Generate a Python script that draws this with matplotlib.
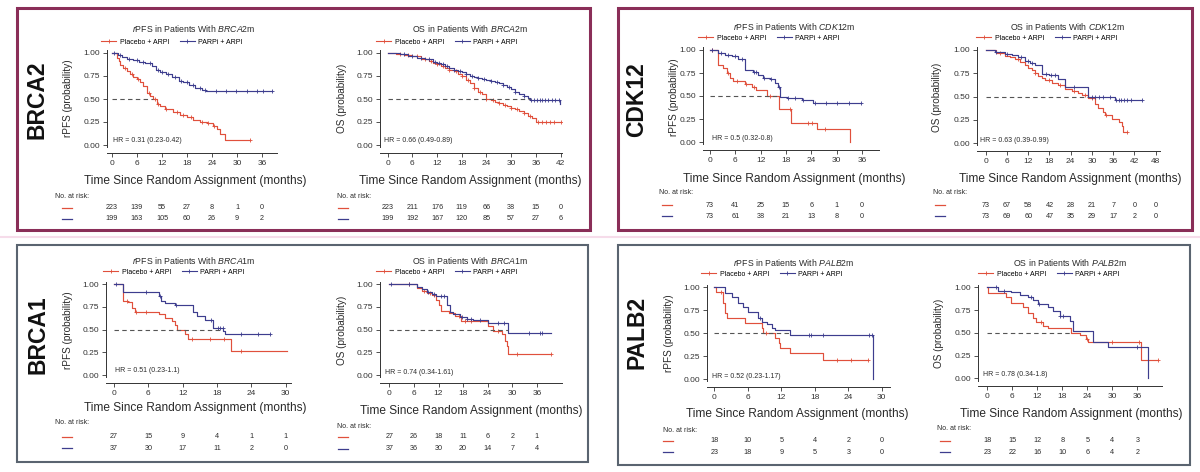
import matplotlib
matplotlib.use('Agg')
import matplotlib.pyplot as plt
from matplotlib import font_manager
from matplotlib.lines import Line2D
from matplotlib.patches import Rectangle
from matplotlib.transforms import blended_transform_factory
import numpy as np

W, H = 1200, 472
RED = '#e0503c'
BLUE = '#3d3d8e'
TXT = '#2a2a2a'

# ---------------- data ----------------
arms = ['Placebo + ARPI', 'PARPi + ARPI']
y_ticks = [0.0, 0.25, 0.5, 0.75, 1.0]
y_tick_labels = ['0.00', '0.25', '0.50', '0.75', '1.00']

# BRCA2 rPFS
brca2_rpfs_pbo_t = [0, 1.2, 1.6, 2.0, 2.7, 3.5, 4.3, 5.1, 5.9, 6.7, 7.5, 8.3, 9.1, 9.9, 10.7, 11.5,
                    12.7, 14.7, 16.3, 17.9, 19.5, 21.0, 22.7, 24.3, 25.1, 26.0, 27.2, 33.1]
brca2_rpfs_pbo_s = [1.0, 0.95, 0.91, 0.87, 0.84, 0.80, 0.77, 0.74, 0.72, 0.68, 0.64, 0.57, 0.53, 0.50,
                    0.45, 0.42, 0.39, 0.36, 0.33, 0.30, 0.27, 0.25, 0.24, 0.21, 0.17, 0.12, 0.05, 0.05]
brca2_rpfs_pbo_cens = [3, 4.8, 6.2, 8.8, 10.2, 11.0, 13.0, 15.5, 17.0, 19.0, 21.5, 23.0, 24.5, 33.1]
brca2_rpfs_parp_t = [0, 1.5, 2.5, 3.5, 5.0, 6.5, 8.0, 9.5, 10.5, 11.5, 13.0, 14.5, 16.0, 17.0,
                     18.5, 20.0, 21.5, 22.5, 38.3]
brca2_rpfs_parp_s = [1.0, 0.98, 0.96, 0.93, 0.92, 0.905, 0.89, 0.86, 0.82, 0.79, 0.77, 0.74, 0.70,
                     0.68, 0.65, 0.62, 0.60, 0.59, 0.59]
brca2_rpfs_parp_cens = [0.5, 2, 4, 6, 7.5, 9, 11, 12, 13.5, 15, 16.5, 18, 19.5, 21, 22.3, 25,
                        27.4, 29.8, 32.3, 34.7, 36.3, 38.3]
brca2_rpfs_xticks = [0, 6, 12, 18, 24, 30, 36]
brca2_rpfs_risk_pbo = [223, 139, 55, 27, 8, 1, 0]
brca2_rpfs_risk_parp = [199, 163, 105, 60, 26, 9, 2]
brca2_rpfs_median_line = 9.9
brca2_rpfs_hr = 'HR = 0.31 (0.23-0.42)'

# BRCA2 OS
brca2_os_pbo_t = [0, 2, 4, 6, 8, 10, 11, 12, 13, 14, 15, 16, 17, 18, 19, 20, 21, 22, 23, 24, 25,
                  26, 27, 28, 29, 30, 31, 32, 33, 34, 35, 36, 42]
brca2_os_pbo_s = [1.0, 0.99, 0.98, 0.965, 0.94, 0.91, 0.895, 0.88, 0.86, 0.84, 0.82, 0.80, 0.77,
                  0.745, 0.71, 0.67, 0.62, 0.58, 0.55, 0.50, 0.49, 0.47, 0.46, 0.44, 0.42, 0.40,
                  0.39, 0.37, 0.345, 0.32, 0.29, 0.255, 0.25]
brca2_os_pbo_cens = [3, 5, 7, 9, 10.5, 12, 13.5, 15, 16.5, 18, 19.5, 21, 22.5, 24, 25.5, 27, 28.5,
                     30, 31.5, 33, 34.5, 36.5, 37.5, 38.5, 39.5, 40.5, 42]
brca2_os_parp_t = [0, 3, 5, 7, 9, 11, 12, 13, 14, 15, 16, 17, 18, 19, 20, 21, 22, 23, 24, 25, 26,
                   27, 28, 29, 30, 31, 32, 33, 34, 34.6, 41.9]
brca2_os_parp_s = [1.0, 0.99, 0.97, 0.95, 0.93, 0.90, 0.89, 0.88, 0.86, 0.84, 0.82, 0.80, 0.79,
                   0.77, 0.75, 0.74, 0.73, 0.72, 0.71, 0.70, 0.68, 0.67, 0.65, 0.63, 0.61, 0.58,
                   0.55, 0.53, 0.51, 0.49, 0.45]
brca2_os_parp_cens = [4, 6, 8, 10, 11.5, 12.5, 13.5, 14.5, 16, 17.5, 19, 20.5, 22, 23.5, 25, 26.5,
                      28, 29.5, 31, 33, 34.8, 35.5, 36.2, 36.9, 37.6, 38.3, 39, 39.8, 40.6, 41.5]
brca2_os_xticks = [0, 6, 12, 18, 24, 30, 36, 42]
brca2_os_risk_pbo = [223, 211, 176, 119, 66, 38, 15, 0]
brca2_os_risk_parp = [199, 192, 167, 120, 85, 57, 27, 6]
brca2_os_median_line = 34.6
brca2_os_hr = 'HR = 0.66 (0.49-0.89)'

# CDK12 rPFS
cdk12_rpfs_pbo_t = [0, 1.8, 3.2, 4.0, 4.7, 5.5, 8.3, 9.9, 11.0, 13.4, 16.4, 19.3, 25.4, 33.2]
cdk12_rpfs_pbo_s = [1.0, 0.84, 0.80, 0.75, 0.70, 0.66, 0.63, 0.60, 0.56, 0.50, 0.36, 0.21, 0.14, 0.0]
cdk12_rpfs_pbo_cens = [0.5, 4.3, 6.5, 8.6, 10.5, 14.2, 19.0, 23.2, 24.3, 27.3]
cdk12_rpfs_parp_t = [0, 1.9, 3.5, 5.1, 6.7, 8.3, 10.3, 11.4, 12.6, 14.2, 15.4, 16.2, 16.6, 18.2,
                     21.7, 24.5, 35.9]
cdk12_rpfs_parp_s = [1.0, 0.97, 0.95, 0.93, 0.90, 0.78, 0.76, 0.73, 0.70, 0.68, 0.64, 0.60, 0.49,
                     0.48, 0.46, 0.42, 0.42]
cdk12_rpfs_parp_cens = [0.5, 2.5, 4.2, 6, 7.5, 10.5, 11, 12.8, 14.5, 16.4, 18.5, 20.2, 22, 24.8,
                        27.5, 30.2, 33, 35.9]
cdk12_rpfs_xticks = [0, 6, 12, 18, 24, 30, 36]
cdk12_rpfs_risk_pbo = [73, 41, 25, 15, 6, 1, 0]
cdk12_rpfs_risk_parp = [73, 61, 38, 21, 13, 8, 0]
cdk12_rpfs_median_line = 16.6
cdk12_rpfs_hr = 'HR = 0.5 (0.32-0.8)'

# CDK12 OS
cdk12_os_pbo_t = [0, 3.0, 5.5, 7.0, 8.3, 9.7, 11.1, 12.0, 13.0, 14.0, 14.9, 16.0, 16.8, 18.6, 20.5,
                  22.4, 24.3, 26.0, 27.1, 29.0, 30.9, 31.8, 33.0, 33.7, 35.6, 37.5, 38.4, 38.9, 39.8]
cdk12_os_pbo_s = [1.0, 0.97, 0.94, 0.92, 0.90, 0.87, 0.84, 0.81, 0.78, 0.75, 0.72, 0.70, 0.68, 0.65,
                  0.62, 0.58, 0.56, 0.54, 0.52, 0.48, 0.42, 0.38, 0.33, 0.30, 0.26, 0.23, 0.18, 0.12,
                  0.12]
cdk12_os_pbo_cens = [4, 9, 14, 18, 21, 25, 28, 30, 34, 39.8]
cdk12_os_parp_t = [0, 2.6, 5.5, 7.5, 9.2, 11.1, 12.5, 13.9, 15.8, 18.0, 20.5, 22.4, 29.0, 34.7,
                   36.5, 44.0]
cdk12_os_parp_s = [1.0, 0.98, 0.96, 0.95, 0.93, 0.88, 0.86, 0.84, 0.745, 0.73, 0.69, 0.60, 0.50,
                   0.49, 0.46, 0.46]
cdk12_os_parp_cens = [3, 6, 10, 12, 13, 17, 18.5, 19.5, 25, 30, 31, 32, 33, 35, 36.8, 37.5, 38.3,
                      39, 40, 41, 44]
cdk12_os_xticks = [0, 6, 12, 18, 24, 30, 36, 42, 48]
cdk12_os_risk_pbo = [73, 67, 58, 42, 28, 21, 7, 0, 0]
cdk12_os_risk_parp = [73, 69, 60, 47, 35, 29, 17, 2, 0]
cdk12_os_median_line = 29.0
cdk12_os_hr = 'HR = 0.63 (0.39-0.99)'

# BRCA1 rPFS
brca1_rpfs_pbo_t = [0, 1.6, 2.5, 3.1, 3.7, 7.8, 8.9, 10.1, 10.7, 11.0, 12.4, 13.0, 20.5, 30.2]
brca1_rpfs_pbo_s = [1.0, 0.82, 0.80, 0.74, 0.70, 0.67, 0.63, 0.59, 0.55, 0.50, 0.45, 0.40, 0.26, 0.26]
brca1_rpfs_pbo_cens = [2.2, 3.8, 5.6, 13.6, 16.8, 19.2, 22.3]
brca1_rpfs_parp_t = [0, 1.6, 7.8, 8.3, 9.0, 10.7, 13.9, 14.5, 15.9, 17.4, 19.1, 19.5, 27.3]
brca1_rpfs_parp_s = [1.0, 0.91, 0.87, 0.82, 0.79, 0.77, 0.69, 0.65, 0.61, 0.52, 0.48, 0.45, 0.45]
brca1_rpfs_parp_cens = [0.3, 5.6, 8.0, 10.8, 16.9, 18.2, 18.6, 19.0, 22.2, 25.2, 27.3]
brca1_rpfs_xticks = [0, 6, 12, 18, 24, 30]
brca1_rpfs_risk_pbo = [27, 15, 9, 4, 1, 1]
brca1_rpfs_risk_parp = [37, 30, 17, 11, 2, 0]
brca1_rpfs_median_line = 18.8
brca1_rpfs_hr = 'HR = 0.51 (0.23-1.1)'

# BRCA1 OS
brca1_os_pbo_t = [0, 6.7, 8.0, 9.1, 10.5, 11.5, 12.0, 12.5, 14.5, 16.0, 17.5, 24.1, 25.4, 27.4,
                  28.2, 28.6, 29.0, 39.5]
brca1_os_pbo_s = [1.0, 0.96, 0.93, 0.90, 0.88, 0.83, 0.77, 0.71, 0.68, 0.65, 0.60, 0.54, 0.48, 0.45,
                  0.375, 0.32, 0.23, 0.23]
brca1_os_pbo_cens = [4.8, 8.5, 10.0, 11.0, 17.0, 18.5, 20.0, 26.5, 31.2, 39.5]
brca1_os_parp_t = [0, 6.7, 7.9, 9.1, 10.3, 11.5, 14.0, 14.8, 15.6, 17.2, 18.9, 20.5, 24.1, 29.0, 39.5]
brca1_os_parp_s = [1.0, 0.97, 0.95, 0.92, 0.89, 0.87, 0.77, 0.70, 0.67, 0.64, 0.62, 0.61, 0.57,
                   0.46, 0.46]
brca1_os_parp_cens = [0.5, 4.8, 9.5, 11.0, 12.5, 13.3, 17.8, 19.0, 20.0, 22.0, 26.5, 28.0, 34.0,
                      36.8, 37.2]
brca1_os_xticks = [0, 6, 12, 18, 24, 30, 36]
brca1_os_risk_pbo = [27, 26, 18, 11, 6, 2, 1]
brca1_os_risk_parp = [37, 36, 30, 20, 14, 7, 4]
brca1_os_median_line = 29.0
brca1_os_hr = 'HR = 0.74 (0.34-1.61)'

# PALB2 rPFS
palb2_rpfs_pbo_t = [0, 0.3, 1.6, 1.9, 2.2, 5.5, 8.5, 8.8, 10.9, 11.5, 11.8, 13.6, 19.5, 27.6]
palb2_rpfs_pbo_s = [1.0, 0.95, 0.83, 0.72, 0.67, 0.61, 0.56, 0.50, 0.45, 0.39, 0.34, 0.28, 0.21, 0.21]
palb2_rpfs_pbo_cens = [1.2, 9.2, 22.0, 24.5, 27.6]
palb2_rpfs_parp_t = [0, 1.9, 3.1, 4.3, 5.2, 6.1, 7.9, 8.5, 9.4, 10.3, 10.9, 13.6, 28.5]
palb2_rpfs_parp_s = [1.0, 0.94, 0.89, 0.83, 0.78, 0.73, 0.66, 0.62, 0.60, 0.56, 0.53, 0.48, 0.0]
palb2_rpfs_parp_cens = [8.1, 16.9, 17.3, 19.5, 27.7, 28.2]
palb2_rpfs_xticks = [0, 6, 12, 18, 24, 30]
palb2_rpfs_risk_pbo = [18, 10, 5, 4, 2, 0]
palb2_rpfs_risk_parp = [23, 18, 9, 5, 3, 0]
palb2_rpfs_median_line = 13.6
palb2_rpfs_hr = 'HR = 0.52 (0.23-1.17)'

# PALB2 OS
palb2_os_pbo_t = [0, 0.2, 4.6, 5.8, 8.6, 9.8, 11.0, 11.8, 13.4, 14.6, 20.2, 22.2, 23.8, 24.2, 37.0, 41.0]
palb2_os_pbo_s = [1.0, 0.94, 0.89, 0.83, 0.78, 0.72, 0.66, 0.62, 0.58, 0.55, 0.50, 0.48, 0.43, 0.40,
                  0.20, 0.20]
palb2_os_pbo_cens = [13.0, 24.0, 30.0, 36.5, 41.0]
palb2_os_parp_t = [0, 2.6, 5.8, 7.8, 9.8, 11.0, 12.2, 14.6, 15.8, 17.4, 19.8, 20.6, 25.4, 29.0, 38.6]
palb2_os_parp_s = [1.0, 0.955, 0.95, 0.91, 0.89, 0.86, 0.82, 0.78, 0.74, 0.69, 0.63, 0.52, 0.40,
                   0.345, 0.0]
palb2_os_parp_cens = [2.0, 4.0, 10.5, 12.5, 17.5, 18.2, 36.0]
palb2_os_xticks = [0, 6, 12, 18, 24, 30, 36]
palb2_os_risk_pbo = [18, 15, 12, 8, 5, 4, 3]
palb2_os_risk_parp = [23, 22, 16, 10, 6, 4, 2]
palb2_os_median_line = 20.4
palb2_os_hr = 'HR = 0.78 (0.34-1.8)'

genes = ['BRCA2', 'CDK12', 'BRCA1', 'PALB2']

# ---------------- fonts ----------------
names = {f.name for f in font_manager.fontManager.ttflist}
if 'Liberation Sans Narrow' in names:
    NARROW, LAB_SIZE, YLAB_SIZE = 'Liberation Sans Narrow', 10.5, 8.5
else:
    NARROW, LAB_SIZE, YLAB_SIZE = 'Liberation Sans', 8.6, 7.2
plt.rcParams['font.family'] = ['Liberation Sans', 'DejaVu Sans']
plt.rcParams['mathtext.fontset'] = 'custom'
plt.rcParams['mathtext.rm'] = 'Liberation Sans'
plt.rcParams['mathtext.it'] = 'Liberation Sans:italic'


def px(x, y):
    return x / W, 1 - y / H


def km_panel(fig, lay, curves, xticks, risks, median_end, hr, title, ylab):
    '''One Kaplan-Meier plot with its legend, labels and risk table'''
    x0, ppm, y1, y0 = lay['x0'], lay['ppm'], lay['y1'], lay['y0']
    xl0, xl1 = lay['xlim']
    yl0, yl1 = -0.025, 1.03
    h = y0 - y1
    left, right = x0 + xl0 * ppm, x0 + xl1 * ppm
    top, bottom = y0 - yl1 * h, y0 - yl0 * h
    ax = fig.add_axes([left / W, 1 - bottom / H, (right - left) / W, (bottom - top) / H])
    ax.patch.set_alpha(0)
    ax.set_xlim(xl0, xl1)
    ax.set_ylim(yl0, yl1)

    for (t, s, cens), color in zip(curves, [RED, BLUE]):
        ax.step(t, s, where='post', color=color, lw=0.85)
        idx = np.searchsorted(t, cens, side='right') - 1
        ax.plot(cens, np.array(s)[idx], ls='none', marker='+', ms=3.5, mew=0.6, color=color)
    ax.plot([0, median_end], [0.5, 0.5], color='#555555', lw=0.8, ls=(0, (4, 3)))

    ax.set_xticks(xticks)
    ax.set_yticks(y_ticks)
    ax.set_yticklabels(y_tick_labels)
    ax.tick_params(labelsize=6, length=3, width=0.6, colors='#333333', pad=2)
    for side in ['top', 'right']:
        ax.spines[side].set_visible(False)
    for side in ['left', 'bottom']:
        ax.spines[side].set_linewidth(0.7)
        ax.spines[side].set_color('#333333')
    ax.spines['bottom'].set_position(('outward', 4))

    # title, legend, axis labels
    fig.text(*px(*lay['title']), title, ha='center', va='center', fontsize=6.3, color=TXT)
    handles = [Line2D([], [], color=c, lw=0.8, marker='+', ms=3.5, mew=0.6) for c in [RED, BLUE]]
    ax.legend(handles, arms, loc='center', bbox_to_anchor=px(*lay['legend']),
              bbox_transform=fig.transFigure, ncol=2, frameon=False, fontsize=5,
              handlelength=2.2, handletextpad=0.5, columnspacing=1.5, borderpad=0)
    fig.text(*px(*lay['xlabel']), 'Time Since Random Assignment (months)', ha='center',
             va='center', fontsize=LAB_SIZE, family=NARROW, color=TXT)
    fig.text(*px(*lay['ylabel']), ylab, ha='center', va='center', rotation=90,
             fontsize=YLAB_SIZE, family=NARROW, color=TXT)
    fig.text(*px(*lay['hr']), hr, ha='left', va='center', fontsize=5, color=TXT)

    # risk table
    fig.text(*px(*lay['risk_label']), 'No. at risk:', ha='left', va='center', fontsize=5, color=TXT)
    trans = blended_transform_factory(ax.transData, fig.transFigure)
    for row, color, ry in zip(risks, [RED, BLUE], lay['risk_rows']):
        lx = lay['risk_line']
        fy = 1 - ry / H
        fig.add_artist(Line2D([lx / W, (lx + 10) / W], [fy, fy], color=color, lw=0.9))
        for tk, n in zip(xticks, row):
            ax.text(tk, fy, str(n), transform=trans, ha='center', va='center', fontsize=5.2,
                    color=TXT, clip_on=False)
    return ax


def main():
    fig = plt.figure(figsize=(W / 100, H / 100), dpi=100)

    # panel frames
    frames = [(17, 8, 590, 230, '#8a2e58', 2.2), (618, 8, 1192, 230, '#8a2e58', 2.2),
              (17, 245, 588, 462, '#5a6470', 1.5), (618, 245, 1190, 465, '#5a6470', 1.5)]
    for x1, yt, x2, yb, col, lw in frames:
        fig.add_artist(Rectangle((x1 / W, 1 - yb / H), (x2 - x1) / W, (yb - yt) / H,
                                 fill=False, ec=col, lw=lw, transform=fig.transFigure))
    fig.add_artist(Line2D([0, 1], [1 - 237 / H, 1 - 237 / H], color='#f6dcea', lw=1.5))

    # gene labels
    for gene, (gx, gy) in zip(genes, [(37, 100), (637, 100), (38, 335), (637, 332)]):
        fig.text(*px(gx, gy), gene, rotation=90, ha='center', va='center', fontsize=16.5,
                 fontweight='bold', color='#111111')

    rpfs = r'$\mathit{r}$PFS in Patients With '
    osp = 'OS in Patients With '

    km_panel(fig, dict(x0=112, ppm=25 / 6, y1=53, y0=145, xlim=(-1.2, 39.6), title=(194, 29),
                       legend=(172, 42), xlabel=(195, 181), ylabel=(68, 98), hr=(113, 141),
                       risk_label=(55, 197), risk_rows=(208, 219), risk_line=62),
             [(brca2_rpfs_pbo_t, brca2_rpfs_pbo_s, brca2_rpfs_pbo_cens),
              (brca2_rpfs_parp_t, brca2_rpfs_parp_s, brca2_rpfs_parp_cens)],
             brca2_rpfs_xticks, [brca2_rpfs_risk_pbo, brca2_rpfs_risk_parp],
             brca2_rpfs_median_line, brca2_rpfs_hr, rpfs + r'$\mathit{BRCA2}$m', 'rPFS (probability)')

    km_panel(fig, dict(x0=387.7, ppm=24.7 / 6, y1=53, y0=145, xlim=(-1.9, 42.3), title=(470, 29),
                       legend=(447, 42), xlabel=(470, 181), ylabel=(342, 98), hr=(384, 141),
                       risk_label=(337, 196), risk_rows=(208, 219), risk_line=338),
             [(brca2_os_pbo_t, brca2_os_pbo_s, brca2_os_pbo_cens),
              (brca2_os_parp_t, brca2_os_parp_s, brca2_os_parp_cens)],
             brca2_os_xticks, [brca2_os_risk_pbo, brca2_os_risk_parp],
             brca2_os_median_line, brca2_os_hr, osp + r'$\mathit{BRCA2}$m', 'OS (probability)')

    km_panel(fig, dict(x0=710, ppm=25.3 / 6, y1=50, y0=142, xlim=(-1.7, 40), title=(794, 26),
                       legend=(769, 38), xlabel=(794, 179), ylabel=(674, 97), hr=(712, 138),
                       risk_label=(659, 193), risk_rows=(205, 216), risk_line=662),
             [(cdk12_rpfs_pbo_t, cdk12_rpfs_pbo_s, cdk12_rpfs_pbo_cens),
              (cdk12_rpfs_parp_t, cdk12_rpfs_parp_s, cdk12_rpfs_parp_cens)],
             cdk12_rpfs_xticks, [cdk12_rpfs_risk_pbo, cdk12_rpfs_risk_parp],
             cdk12_rpfs_median_line, cdk12_rpfs_hr, rpfs + r'$\mathit{CDK12}$m', 'rPFS (probability)')

    km_panel(fig, dict(x0=985.7, ppm=21.25 / 6, y1=50, y0=143, xlim=(-2.5, 49.3), title=(1068, 26),
                       legend=(1047, 38), xlabel=(1070, 179), ylabel=(937, 97), hr=(980, 141),
                       risk_label=(933, 193), risk_rows=(205, 216), risk_line=935),
             [(cdk12_os_pbo_t, cdk12_os_pbo_s, cdk12_os_pbo_cens),
              (cdk12_os_parp_t, cdk12_os_parp_s, cdk12_os_parp_cens)],
             cdk12_os_xticks, [cdk12_os_risk_pbo, cdk12_os_risk_parp],
             cdk12_os_median_line, cdk12_os_hr, osp + r'$\mathit{CDK12}$m', 'OS (probability)')

    km_panel(fig, dict(x0=114, ppm=34.3 / 6, y1=284.3, y0=375, xlim=(-1.4, 31), title=(194, 260),
                       legend=(174, 272), xlabel=(195, 408), ylabel=(68, 330), hr=(115, 370),
                       risk_label=(55, 423), risk_rows=(437, 448), risk_line=62),
             [(brca1_rpfs_pbo_t, brca1_rpfs_pbo_s, brca1_rpfs_pbo_cens),
              (brca1_rpfs_parp_t, brca1_rpfs_parp_s, brca1_rpfs_parp_cens)],
             brca1_rpfs_xticks, [brca1_rpfs_risk_pbo, brca1_rpfs_risk_parp],
             brca1_rpfs_median_line, brca1_rpfs_hr, rpfs + r'$\mathit{BRCA1}$m', 'rPFS (probability)')

    km_panel(fig, dict(x0=389.3, ppm=24.6 / 6, y1=284.3, y0=375, xlim=(-2.3, 42), title=(470, 260),
                       legend=(447, 272), xlabel=(471, 411), ylabel=(342, 330), hr=(385, 372),
                       risk_label=(337, 426), risk_rows=(437, 449), risk_line=338),
             [(brca1_os_pbo_t, brca1_os_pbo_s, brca1_os_pbo_cens),
              (brca1_os_parp_t, brca1_os_parp_s, brca1_os_parp_cens)],
             brca1_os_xticks, [brca1_os_risk_pbo, brca1_os_risk_parp],
             brca1_os_median_line, brca1_os_hr, osp + r'$\mathit{BRCA1}$m', 'OS (probability)')

    km_panel(fig, dict(x0=714.3, ppm=33.5 / 6, y1=287.3, y0=379, xlim=(-1.3, 31.5), title=(794, 263),
                       legend=(772, 274), xlabel=(797, 414), ylabel=(669, 333), hr=(712, 376),
                       risk_label=(663, 430), risk_rows=(441, 452), risk_line=663),
             [(palb2_rpfs_pbo_t, palb2_rpfs_pbo_s, palb2_rpfs_pbo_cens),
              (palb2_rpfs_parp_t, palb2_rpfs_parp_s, palb2_rpfs_parp_cens)],
             palb2_rpfs_xticks, [palb2_rpfs_risk_pbo, palb2_rpfs_risk_parp],
             palb2_rpfs_median_line, palb2_rpfs_hr, rpfs + r'$\mathit{PALB2}$m', 'rPFS (probability)')

    km_panel(fig, dict(x0=987.3, ppm=25 / 6, y1=287.3, y0=378.3, xlim=(-2.2, 41.9), title=(1070, 262),
                       legend=(1049, 274), xlabel=(1071, 414), ylabel=(939, 333), hr=(983, 375),
                       risk_label=(937, 429), risk_rows=(441, 452), risk_line=940),
             [(palb2_os_pbo_t, palb2_os_pbo_s, palb2_os_pbo_cens),
              (palb2_os_parp_t, palb2_os_parp_s, palb2_os_parp_cens)],
             palb2_os_xticks, [palb2_os_risk_pbo, palb2_os_risk_parp],
             palb2_os_median_line, palb2_os_hr, osp + r'$\mathit{PALB2}$m', 'OS (probability)')

    fig.savefig('out.png', dpi=100, facecolor='white')


if __name__ == "__main__":
    main()
